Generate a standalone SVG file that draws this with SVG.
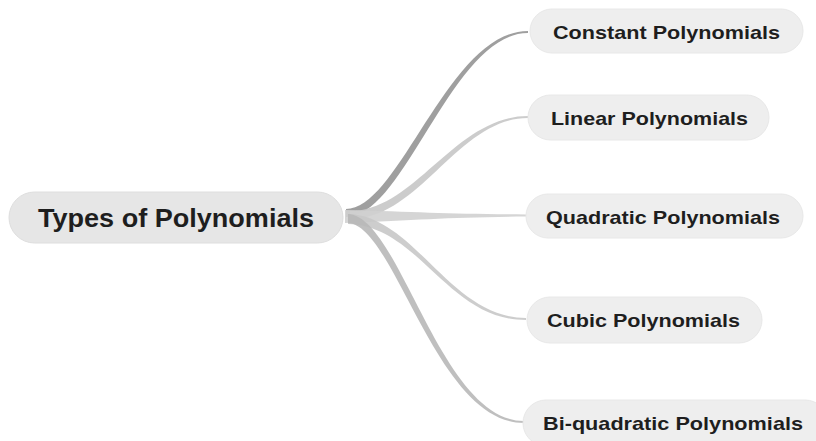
<svg xmlns="http://www.w3.org/2000/svg" width="816" height="441" viewBox="0 0 816 441">
<style>
.pill{fill:#eeeeee;stroke:#e8e8e8;stroke-width:1}
.root{fill:#e6e6e6;stroke:#dedede;stroke-width:1}
.t{font-family:"Liberation Sans",Arial,sans-serif;font-weight:bold;fill:#1e1e1e}
.c{font-size:18.5px}
.r{font-size:25px}
</style>
<rect width="816" height="441" fill="#ffffff"/>
<g id="connectors">
<path d="M346,209 C400,209 448,31 528,31 L528,33 C452,33 405,217 346,217 Z" fill="#8e8e8e" opacity="0.85"/>
<path d="M350,211 C415,211 455,116 528,116 L528,118 C458,118 420,219 350,219 Z" fill="#c6c6c6" opacity="0.9"/>
<path d="M345,210 C420,212 450,214 526,214.5 L526,216.5 C450,217 420,220 345,223 Z" fill="#d0d0d0" opacity="0.9"/>
<path d="M348,214 C415,216 450,318 526,318 L526,320 C447,320 420,226 348,224 Z" fill="#c8c8c8" opacity="0.9"/>
<path d="M348,214 C400,216 440,421 524,421 L524,423 C436,423 395,225 348,223 Z" fill="#b8b8b8" opacity="0.9"/>
</g>
<g id="root">
<rect class="root" x="9" y="192" width="334" height="51" rx="25.5"/>
<text class="t r" x="38" y="227" textLength="276" lengthAdjust="spacingAndGlyphs">Types of Polynomials</text>
</g>
<g id="constant">
<rect class="pill" x="530" y="9" width="273" height="44" rx="22"/>
<text class="t c" x="553" y="39" textLength="227" lengthAdjust="spacingAndGlyphs">Constant Polynomials</text>
</g>
<g id="linear">
<rect class="pill" x="528" y="95" width="241" height="45" rx="22.5"/>
<text class="t c" x="551" y="125" textLength="197" lengthAdjust="spacingAndGlyphs">Linear Polynomials</text>
</g>
<g id="quadratic">
<rect class="pill" x="526" y="194" width="277" height="44" rx="22"/>
<text class="t c" x="546" y="224" textLength="234" lengthAdjust="spacingAndGlyphs">Quadratic Polynomials</text>
</g>
<g id="cubic">
<rect class="pill" x="527" y="297" width="235" height="46" rx="23"/>
<text class="t c" x="547" y="327" textLength="193" lengthAdjust="spacingAndGlyphs">Cubic Polynomials</text>
</g>
<g id="biquadratic">
<rect class="pill" x="523" y="400" width="305" height="46" rx="23"/>
<text class="t c" x="543" y="430" textLength="260" lengthAdjust="spacingAndGlyphs">Bi-quadratic Polynomials</text>
</g>
</svg>
